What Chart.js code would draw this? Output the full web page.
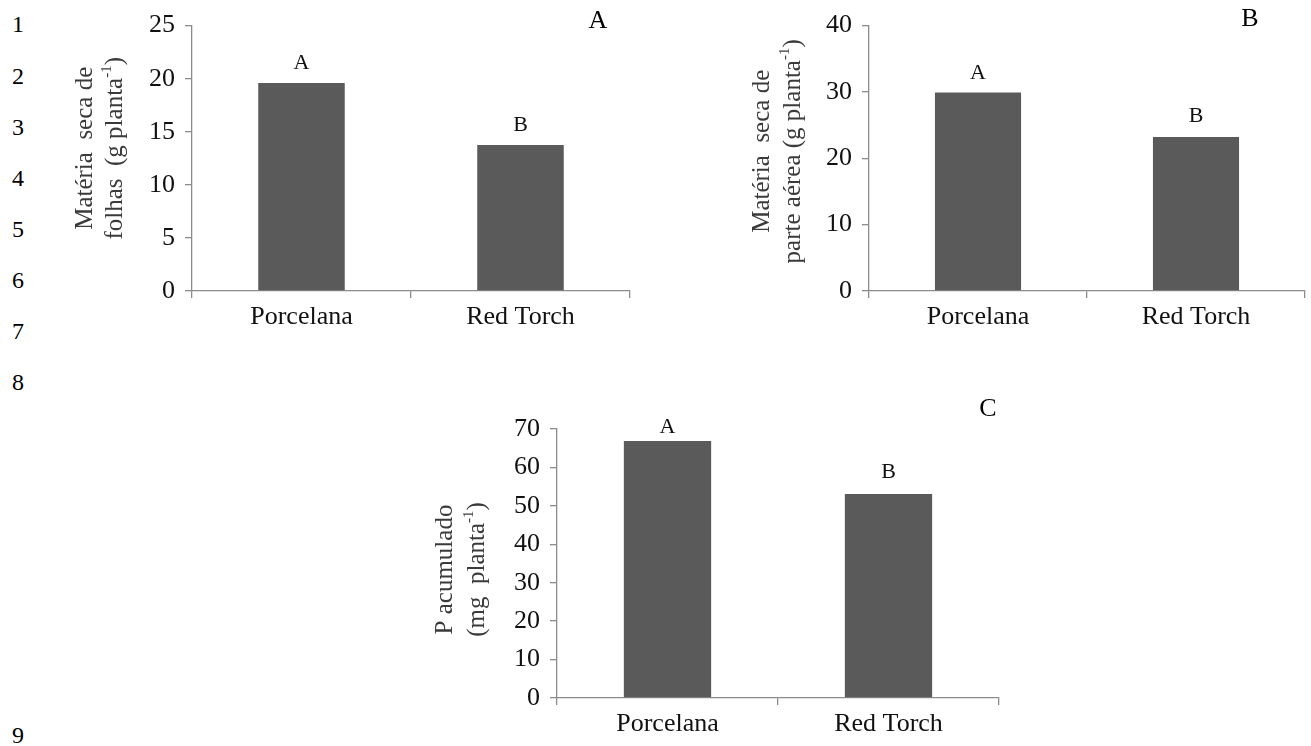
<!DOCTYPE html>
<html>
<head>
<meta charset="utf-8">
<script src="https://cdn.jsdelivr.net/npm/chart.js@4.4.1/dist/chart.umd.min.js"></script>
<style>
  html, body { margin: 0; padding: 0; background: #fff; }
  #page { position: relative; width: 1311px; height: 746px; overflow: hidden; font-family: "Liberation Serif", "Times New Roman", serif; color: #000; }
  canvas { position: absolute; }
  .lineno { position: absolute; left: 12px; font-size: 24px; line-height: 1; transform: translateY(-50%); }
  .panel { position: absolute; font-size: 26px; line-height: 1; transform: translate(-50%, -50%); }
</style>
</head>
<body>
<div id="page">
  <canvas id="chartA" width="590" height="345" style="left:60px; top:0px;"></canvas>
  <canvas id="chartB" width="571" height="345" style="left:740px; top:0px;"></canvas>
  <canvas id="chartC" width="600" height="346" style="left:420px; top:400px;"></canvas>
  <div class="panel" style="left:598px; top:20px;">A</div>
  <div class="panel" style="left:1250px; top:18px;">B</div>
  <div class="panel" style="left:988px; top:408px;">C</div>
</div>
<script>
// categories and values
const cultivars = ['Porcelana', 'Red Torch'];
const leafMass = [19.6, 13.75];     // g planta-1
const shootMass = [29.9, 23.2];     // g planta-1
const accumP = [66.9, 53.1];        // mg planta-1
const leafLetters = ['A', 'B'];
const shootLetters = ['A', 'B'];
const pLetters = ['A', 'B'];
const leafAxis = { max: 25, step: 5 };
const shootAxis = { max: 40, step: 10 };
const pAxis = { max: 70, step: 10 };
const lineNumbers = ['1', '2', '3', '4', '5', '6', '7', '8', '9'];

const FONT = '"Liberation Serif", "Times New Roman", serif';
const AXIS = '#8c8c8c';
const BAR = '#5a5a5a';

// manuscript line numbers down the left margin
const lineY = [24, 76, 127, 178, 229, 280, 331, 382, 735];
lineNumbers.forEach((n, i) => {
    const d = document.createElement('div');
    d.className = 'lineno';
    d.style.top = lineY[i] + 'px';
    d.textContent = n;
    document.getElementById('page').appendChild(d);
});

// significance letters above each bar
const letterPlugin = {
    id: 'letters',
    afterDatasetsDraw(chart, args, opts) {
        const ctx = chart.ctx;
        const meta = chart.getDatasetMeta(0);
        ctx.save();
        ctx.font = '22px ' + FONT;
        ctx.fillStyle = '#111';
        ctx.textAlign = 'center';
        ctx.textBaseline = 'alphabetic';
        meta.data.forEach((bar, i) => {
            ctx.fillText(opts.letters[i], bar.x, bar.y - opts.gaps[i]);
        });
        ctx.restore();
    }
};

// two-line rotated y title with a superscript "-1"
const sideTitlePlugin = {
    id: 'sideTitle',
    afterDraw(chart, args, opts) {
        const { ctx, chartArea } = chart;
        const cy = (chartArea.top + chartArea.bottom) / 2 + opts.dy;
        opts.lines.forEach((parts, i) => {
            ctx.save();
            ctx.translate(chartArea.left + opts.dx[i], cy);
            ctx.rotate(-Math.PI / 2);
            ctx.fillStyle = '#3a3a3a';
            ctx.textBaseline = 'middle';
            ctx.textAlign = 'left';
            const widths = parts.map(p => {
                ctx.font = (p.sup ? '15px ' : '25px ') + FONT;
                return ctx.measureText(p.t).width;
            });
            let x = -widths.reduce((a, b) => a + b, 0) / 2;
            parts.forEach((p, k) => {
                ctx.font = (p.sup ? '15px ' : '25px ') + FONT;
                ctx.fillText(p.t, x, p.sup ? -8 : 0);
                x += widths[k];
            });
            ctx.restore();
        });
    }
};

function makeBarChart(id, values, letters, axis, box) {
    return new Chart(document.getElementById(id), {
        type: 'bar',
        data: {
            labels: cultivars,
            datasets: [{
                data: values,
                backgroundColor: BAR,
                borderWidth: 0,
                categoryPercentage: 1,
                barPercentage: 0.395
            }]
        },
        options: {
            responsive: false,
            animation: false,
            layout: { padding: { top: box.padTop, right: box.padRight, left: 0, bottom: 0 } },
            scales: {
                x: {
                    grid: { drawOnChartArea: false, tickLength: 7, color: AXIS, lineWidth: 1.3 },
                    border: { color: AXIS, width: 1.3 },
                    ticks: { font: { family: FONT, size: 26 }, color: '#111', padding: 4, maxRotation: 0 },
                    afterFit: s => { s.height = box.xH; }
                },
                y: {
                    min: 0,
                    max: axis.max,
                    grid: { drawOnChartArea: false, tickLength: 7, color: AXIS, lineWidth: 1.3 },
                    border: { color: AXIS, width: 1.3 },
                    ticks: { stepSize: axis.step, font: { family: FONT, size: 26 }, color: '#111', padding: 10 },
                    afterFit: s => { s.width = box.yW; }
                }
            },
            plugins: {
                legend: { display: false },
                tooltip: { enabled: false },
                letters: { letters: letters, gaps: box.gaps },
                sideTitle: { lines: box.title, dx: box.titleDx, dy: box.titleDy }
            }
        },
        plugins: [letterPlugin, sideTitlePlugin]
    });
}

makeBarChart('chartA', leafMass, leafLetters, leafAxis, {
    padTop: 24, padRight: 20, yW: 132, xH: 54, gaps: [14, 14],
    title: [[{ t: 'Matéria  seca de' }], [{ t: 'folhas  (g planta' }, { t: '-1', sup: true }, { t: ')' }]],
    titleDx: [-107, -77], titleDy: -10
});

makeBarChart('chartB', shootMass, shootLetters, shootAxis, {
    padTop: 24, padRight: 6, yW: 129, xH: 54, gaps: [14, 15],
    title: [[{ t: 'Matéria  seca de' }], [{ t: 'parte aérea (g planta' }, { t: '-1', sup: true }, { t: ')' }]],
    titleDx: [-107, -76], titleDy: -7
});

makeBarChart('chartC', accumP, pLetters, pAxis, {
    padTop: 29, padRight: 21, yW: 137, xH: 48, gaps: [8, 16],
    title: [[{ t: 'P acumulado' }], [{ t: '(mg  planta' }, { t: '-1', sup: true }, { t: ')' }]],
    titleDx: [-112, -80], titleDy: 6
});
</script>
</body>
</html>
